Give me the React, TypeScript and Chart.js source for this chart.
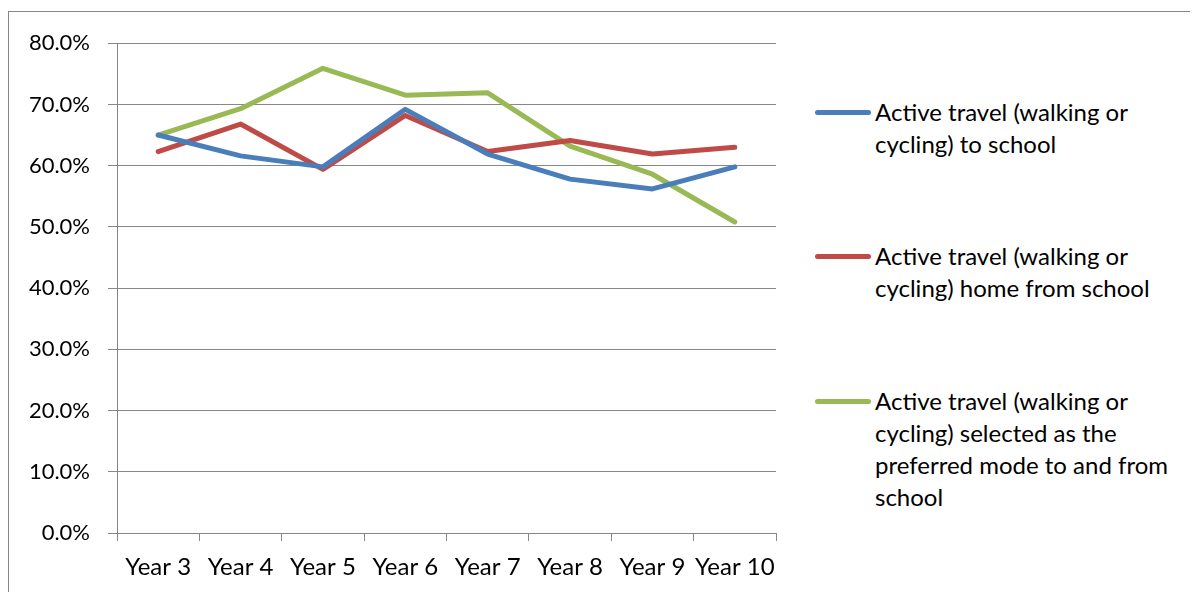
import React, { useEffect, useRef } from "react";
import { Chart, registerables } from "chart.js";

Chart.register(...registerables);

const categories = ["Year 3", "Year 4", "Year 5", "Year 6", "Year 7", "Year 8", "Year 9", "Year 10"];
const toSchool = [65.0, 61.6, 59.8, 69.2, 61.9, 57.8, 56.2, 59.8];
const homeFromSchool = [62.3, 66.8, 59.4, 68.2, 62.3, 64.1, 61.9, 63.0];
const preferredMode = [65.0, 69.3, 75.9, 71.5, 71.9, 63.2, 58.6, 50.8];
const seriesLabels = [
  ["Active travel (walking or", "cycling) to school"],
  ["Active travel (walking or", "cycling) home from school"],
  ["Active travel (walking or", "cycling) selected as the", "preferred mode to and from", "school"],
];
const seriesColors = ["#4A7EBB", "#BE4B48", "#98B954"];
const yMin = 0;
const yMax = 80;
const yStep = 10;

const FONT = "Lato, 'Open Sans', sans-serif";
const GRID = "#878787";

export default function App() {
  const canvasRef = useRef<HTMLCanvasElement | null>(null);

  useEffect(() => {
    document.documentElement.style.overflow = "hidden";
    const canvas = canvasRef.current;
    if (!canvas) return;
    const chart = new Chart(canvas, {
      type: "line",
      data: {
        labels: categories,
        datasets: [toSchool, homeFromSchool, preferredMode].map((d, i) => ({
          label: seriesLabels[i].join(" "),
          data: d,
          borderColor: seriesColors[i],
          backgroundColor: seriesColors[i],
          borderWidth: 5,
          pointRadius: 0,
          pointHoverRadius: 0,
          tension: 0,
          borderCapStyle: "round" as const,
          borderJoinStyle: "round" as const,
          fill: false,
        })),
      },
      options: {
        responsive: false,
        animation: false,
        devicePixelRatio: 1,
        layout: { autoPadding: false, padding: { top: 28, right: 33, left: 0, bottom: 0 } },
        plugins: {
          legend: { display: false },
          tooltip: { enabled: false },
          title: { display: false },
        },
        scales: {
          x: {
            type: "category",
            offset: true,
            grid: {
              offset: true,
              drawOnChartArea: false,
              drawTicks: true,
              tickLength: 8,
              color: GRID,
              lineWidth: 1,
            },
            border: { display: true, color: GRID, width: 1 },
            ticks: {
              color: "#000",
              font: { family: FONT, size: 24 },
              padding: 12,
              maxRotation: 0,
              autoSkip: false,
            },
            afterFit: (scale: any) => {
              scale.height = 59;
            },
          },
          y: {
            min: yMin,
            max: yMax,
            ticks: {
              stepSize: yStep,
              color: "#000",
              font: { family: FONT, size: 22 },
              padding: 18,
              callback: (v: any) => `${Number(v).toFixed(1)}%`,
            },
            grid: {
              color: GRID,
              lineWidth: 1,
              tickLength: 9,
              drawTicks: true,
            },
            border: { display: true, color: GRID, width: 1 },
            afterFit: (scale: any) => {
              scale.width = 108;
            },
          },
        },
      },
    });
    return () => chart.destroy();
  }, []);

  const legendTops = [112, 256, 401];

  return (
    <div
      style={{
        position: "relative",
        marginTop: 3,
        width: 1250,
        height: 650,
        border: `1px solid ${GRID}`,
        background: "#fff",
        fontFamily: FONT,
      }}
    >
      <canvas
        ref={canvasRef}
        width={800}
        height={580}
        style={{ position: "absolute", left: 0, top: 0, width: 800, height: 580 }}
      />
      {seriesLabels.map((lines, i) => (
        <div
          key={i}
          style={{
            position: "absolute",
            left: 806,
            top: legendTops[i] - 16 - 12,
            display: "flex",
            alignItems: "flex-start",
          }}
        >
          <div
            style={{
              width: 56,
              height: 5,
              borderRadius: 3,
              background: seriesColors[i],
              marginTop: 14,
              marginRight: 4,
            }}
          />
          <div style={{ fontSize: 24, lineHeight: "32px", color: "#000", whiteSpace: "nowrap" }}>
            {lines.map((l, j) => (
              <div key={j}>{l}</div>
            ))}
          </div>
        </div>
      ))}
    </div>
  );
}
